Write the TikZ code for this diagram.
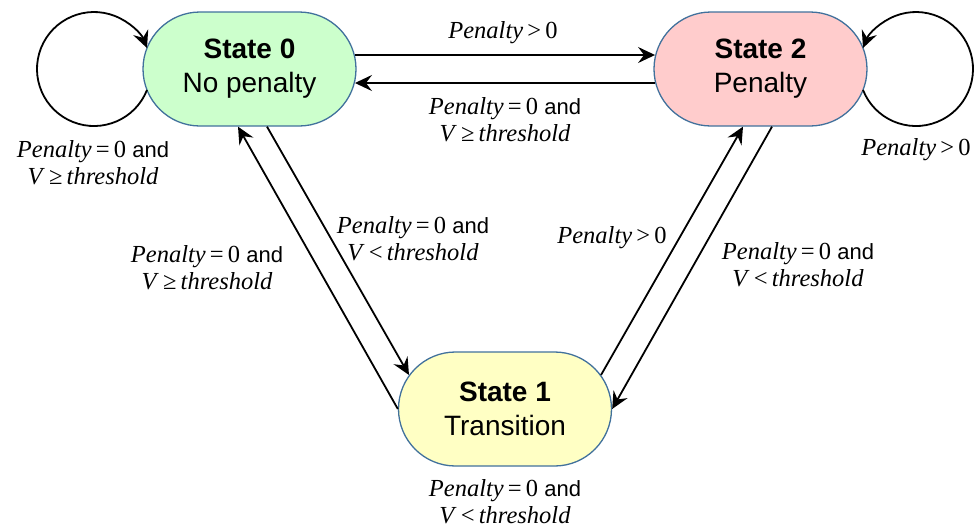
\documentclass[tikz,border=0pt]{standalone}
\usepackage{fontspec}
\setmainfont{Liberation Serif}
\newfontfamily\lsans{Liberation Sans}
\usetikzlibrary{shapes.misc,arrows.meta,calc}
\definecolor{stroke}{HTML}{41719C}
\definecolor{gfill}{HTML}{CCFFCC}
\definecolor{pfill}{HTML}{FFCCCC}
\definecolor{yfill}{HTML}{FFFFC4}
\newcommand{\Pen}{\textit{Penalty}}
\newcommand{\myand}{{\lsans\fontsize{22}{27}\selectfont and}}
\newcommand{\rel}[1]{\hspace{0.17em}#1\hspace{0.17em}}
\begin{document}
\begin{tikzpicture}[x=1pt,y=-1pt,
  state/.style={rounded rectangle, draw=stroke, line width=1.3pt, minimum width=213pt, minimum height=114pt, inner sep=0pt, align=center, font=\lsans\fontsize{28}{34}\selectfont},
  arr/.style={line width=1.8pt, -{Stealth[length=17pt,width=16pt,inset=6pt]}},
  lbl/.style={align=center, font=\fontsize{24.5}{27}\selectfont, inner sep=0pt}]
\useasboundingbox (0,0) rectangle (977,528);
\node[state, fill=gfill] (s0) at (249.5,69) {\textbf{State 0}\\No penalty};
\node[state, fill=pfill] (s2) at (760.5,69) {\textbf{State 2}\\Penalty};
\node[state, fill=yfill] (s1) at (505,409) {\textbf{State 1}\\Transition};

% horizontal
\draw[arr] ($(s0.east)+(-1.7,-14)$) -- ($(s2.west)+(1.7,-14)$);
\draw[arr] ($(s2.west)+(1.7,14)$) -- ($(s0.east)+(-1.7,14)$);
% diagonals
\draw[arr] (s1.west) -- ($(s0.south)+(-11.5,0)$);
\draw[arr] ($(s0.south)+(17.5,0)$) -- ($(s1.center)+(-96,-34)$);
\draw[arr] ($(s1.center)+(96,-34)$) -- ($(s2.south)+(-17.5,0)$);
\draw[arr] ($(s2.south)+(11.5,0)$) -- (s1.east);
% loops
\draw[arr] ($(s0.center)+(-102.5,21)$) arc[start angle=21.6, end angle=338.4, radius=57];
\draw[arr] ($(s2.center)+(102.5,21)$) arc[start angle=158.4, end angle=-158.4, radius=57];

% labels
\node[lbl] (l1) at (503,33) {\Pen\rel{>}0};
\node[lbl] (l2) at (505,120) {\Pen\rel{=}0 \myand\\\textit{V}\rel{≥}\textit{threshold}};
\node[lbl] (l3) at (93,163) {\Pen\rel{=}0 \myand\\\textit{V}\rel{≥}\textit{threshold}};
\node[lbl] (l4) at (916,150) {\Pen\rel{>}0};
\node[lbl] (l5) at (207,268) {\Pen\rel{=}0 \myand\\\textit{V}\rel{≥}\textit{threshold}};
\node[lbl] (l6) at (413,239) {\Pen\rel{=}0 \myand\\\textit{V}\rel{<}\textit{threshold}};
\node[lbl] (l7) at (612,238) {\Pen\rel{>}0};
\node[lbl] (l8) at (798,265) {\Pen\rel{=}0 \myand\\\textit{V}\rel{<}\textit{threshold}};
\node[lbl] (l9) at (505,502) {\Pen\rel{=}0 \myand\\\textit{V}\rel{<}\textit{threshold}};
\end{tikzpicture}
\end{document}
